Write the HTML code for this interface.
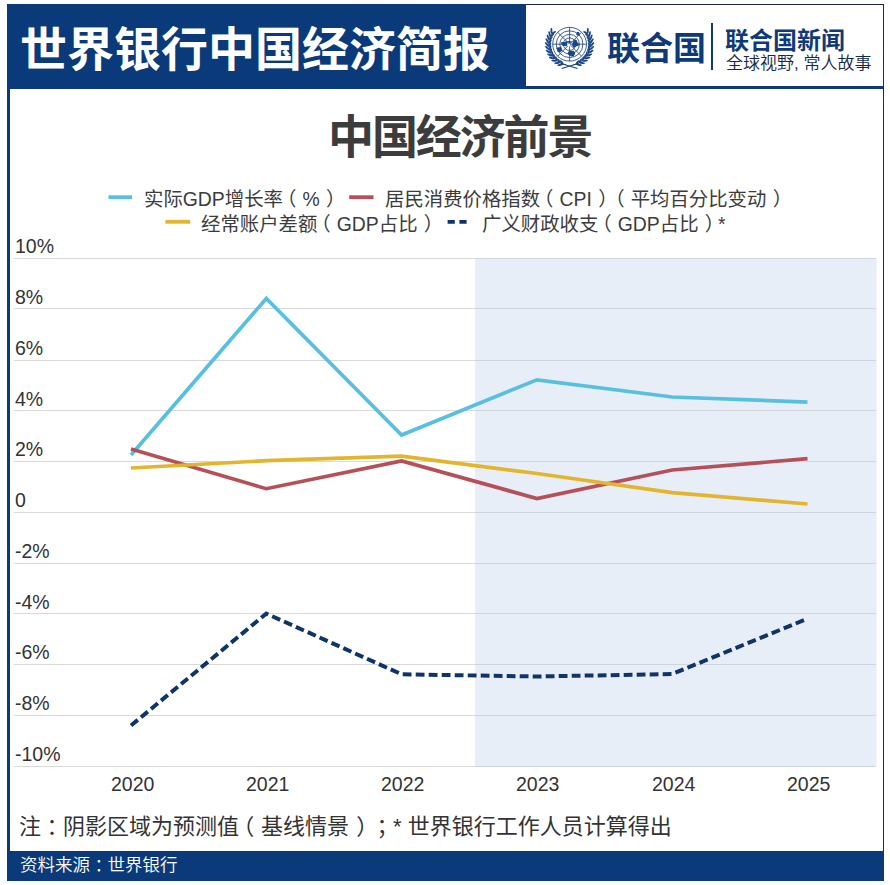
<!DOCTYPE html>
<html lang="zh-CN">
<head>
<meta charset="utf-8">
<title>世界银行中国经济简报</title>
<style>
html,body{margin:0;padding:0;background:#fff;}
body{width:890px;height:885px;position:relative;overflow:hidden;text-spacing-trim:space-all;font-family:"Liberation Sans","Noto Sans CJK SC",sans-serif;}
.abs{position:absolute;}
#frameL{left:7px;top:4px;width:3px;height:877px;background:#0a3a7a;}
#frameR{left:883px;top:4px;width:1px;height:877px;background:#1d2c4a;}
#hdrL{left:7px;top:4px;width:519px;height:85px;background:#0a3a7a;}
#hdrTop{left:526px;top:4px;width:358px;height:1px;background:#1d2a3c;}
#hdrBot{left:526px;top:86px;width:358px;height:3px;background:#0a3a7a;}
#footer{left:7px;top:851px;width:877px;height:30px;background:#0a3a7a;}
.t{white-space:nowrap;line-height:1;}
#title{left:20px;top:21.5px;font-size:47px;font-weight:700;color:#fff;font-family:"Noto Sans CJK SC",sans-serif;}
#un1{left:607px;top:29.5px;font-size:33px;font-weight:700;color:#0e3a78;font-family:"Noto Sans CJK SC",sans-serif;}
#sep{left:711px;top:23px;width:2px;height:47px;background:#0e3a78;}
#un2{left:725px;top:27px;font-size:24px;font-weight:700;color:#0e3a78;font-family:"Noto Sans CJK SC",sans-serif;}
#un3{left:726px;top:55px;font-size:17px;font-weight:350;color:#15284c;font-family:"Liberation Sans","Noto Sans CJK SC",sans-serif;}
#ctitle{left:328px;top:110px;font-size:46px;letter-spacing:-2.1px;font-weight:700;color:#3c3c3c;font-family:"Noto Sans CJK SC",sans-serif;}
.leg{font-size:19.4px;font-weight:400;color:#3c3c3c;}
.l{position:relative;left:-0.315em}
.r{position:relative;left:0.325em}
.c{position:relative;left:0.25em}
.ylab{font-size:19.5px;color:#333;}
.xlab{font-size:19.5px;color:#333;}
#note{left:19px;top:815.5px;font-size:22px;font-weight:400;color:#333;}
#src{left:20px;top:857px;font-size:17.5px;font-weight:350;color:#fff;}
</style>
</head>
<body>
<div class="abs" id="hdrL"></div>
<div class="abs" id="hdrTop"></div>
<div class="abs" id="hdrBot"></div>
<div class="abs" id="frameL"></div>
<div class="abs" id="frameR"></div>
<div class="abs" id="footer"></div>
<div class="abs t" id="title">世界银行中国经济简报</div>

<!-- UN emblem -->
<svg class="abs" style="left:544px;top:26px" width="52" height="44" viewBox="0 0 52 44">
<g fill="none" stroke="#1b4786" stroke-width="0.85">
<circle cx="25.6" cy="18.2" r="16.90"/>
<circle cx="25.6" cy="18.2" r="13.35"/>
<circle cx="25.6" cy="18.2" r="9.80"/>
<circle cx="25.6" cy="18.2" r="6.25"/>
<line x1="42.50" y1="18.20" x2="8.70" y2="18.20"/>
<line x1="37.55" y1="30.15" x2="13.65" y2="6.25"/>
<line x1="25.60" y1="35.10" x2="25.60" y2="1.30"/>
<line x1="13.65" y1="30.15" x2="37.55" y2="6.25"/>
</g>
<g fill="#1b4786">
<path d="M23.01,17.75 L23.75,19.23 L22.31,20.21 L20.50,19.89 L18.93,19.89 L17.85,18.95 L17.08,17.75 L17.33,16.31 L19.28,16.09 L20.50,15.92 L22.37,15.21 L23.13,16.56Z"/>
<path d="M34.92,17.70 L34.41,20.12 L32.35,20.23 L31.25,20.68 L29.51,21.68 L28.38,19.89 L28.05,17.70 L28.99,15.97 L29.70,14.15 L31.25,13.60 L32.78,14.20 L33.30,16.13Z"/>
<path d="M17.75,23.50 L17.85,24.88 L16.61,25.67 L15.25,26.36 L13.69,26.00 L13.33,24.52 L13.12,23.50 L12.24,21.90 L13.98,21.47 L15.25,21.20 L17.12,20.52 L17.74,22.17Z"/>
<path d="M31.07,27.75 L30.43,29.07 L29.70,30.50 L28.00,30.48 L26.63,29.97 L25.05,29.35 L23.56,27.75 L24.36,25.78 L25.93,24.40 L28.00,24.90 L29.84,24.77 L30.73,26.27Z"/>
<path d="M35.92,7.75 L35.77,8.64 L35.05,9.34 L34.00,9.71 L32.98,9.30 L32.08,8.72 L32.67,7.75 L32.47,6.98 L32.88,6.05 L34.00,6.04 L35.10,6.08 L35.22,7.13Z"/>
<path d="M28.14,16.00 L27.76,16.53 L26.34,16.77 L25.00,16.78 L24.02,16.56 L22.45,16.49 L22.34,16.00 L22.32,15.49 L23.75,15.28 L25.00,14.96 L26.18,15.32 L27.73,15.47Z"/>
</g>
<circle cx="24.80" cy="19.00" r="1.6" fill="#fff"/>
<g fill="#1b4786">
<path d="M7.50,7.75 L7.02,8.63 L6.58,9.53 L6.19,10.46 L5.84,11.40 L5.53,12.35 L5.28,13.32 L5.07,14.30 L4.90,15.29 L4.79,16.29 L4.72,17.29 L4.70,18.29 L4.73,19.29 L4.81,20.29 L4.93,21.29 L5.10,22.28 L5.32,23.26 L5.59,24.22 L5.90,25.18 L6.26,26.11 L6.66,27.03 L7.10,27.93 L7.59,28.81 L8.12,29.66 L8.69,30.48 L9.30,31.28 L9.95,32.05 L10.63,32.78 L11.35,33.49 L12.10,34.15 L12.88,34.78 L13.69,35.37 L14.52,35.92 L15.39,36.44 L16.27,36.90 L17.18,37.33 L18.11,37.71 L19.05,38.05 L20.01,38.34 L20.99,38.58 L21.97,38.78" fill="none" stroke="#1b4786" stroke-width="1.0"/>
<ellipse cx="7.42" cy="4.75" rx="3.00" ry="1.0" transform="rotate(-91.5 7.42 4.75)"/>
<ellipse cx="9.70" cy="6.56" rx="2.50" ry="1.0" transform="rotate(-28.5 9.70 6.56)"/>
<ellipse cx="5.49" cy="7.87" rx="3.00" ry="1.0" transform="rotate(-100.8 5.49 7.87)"/>
<ellipse cx="8.02" cy="9.28" rx="2.50" ry="1.0" transform="rotate(-37.8 8.02 9.28)"/>
<ellipse cx="4.08" cy="11.25" rx="3.00" ry="1.0" transform="rotate(-110.1 4.08 11.25)"/>
<ellipse cx="6.81" cy="12.24" rx="2.50" ry="1.0" transform="rotate(-47.1 6.81 12.24)"/>
<ellipse cx="3.24" cy="14.82" rx="3.00" ry="1.0" transform="rotate(-119.4 3.24 14.82)"/>
<ellipse cx="6.10" cy="15.35" rx="2.50" ry="1.0" transform="rotate(-56.4 6.10 15.35)"/>
<ellipse cx="2.99" cy="18.48" rx="3.00" ry="1.0" transform="rotate(-128.7 2.99 18.48)"/>
<ellipse cx="5.89" cy="18.54" rx="2.50" ry="1.0" transform="rotate(-65.7 5.89 18.54)"/>
<ellipse cx="3.33" cy="22.13" rx="3.00" ry="1.0" transform="rotate(-138.0 3.33 22.13)"/>
<ellipse cx="6.21" cy="21.72" rx="2.50" ry="1.0" transform="rotate(-75.0 6.21 21.72)"/>
<ellipse cx="4.26" cy="25.67" rx="3.00" ry="1.0" transform="rotate(-147.3 4.26 25.67)"/>
<ellipse cx="7.03" cy="24.81" rx="2.50" ry="1.0" transform="rotate(-84.3 7.03 24.81)"/>
<ellipse cx="5.75" cy="29.02" rx="3.00" ry="1.0" transform="rotate(-156.6 5.75 29.02)"/>
<ellipse cx="8.34" cy="27.72" rx="2.50" ry="1.0" transform="rotate(-93.6 8.34 27.72)"/>
<ellipse cx="7.76" cy="32.09" rx="3.00" ry="1.0" transform="rotate(-165.9 7.76 32.09)"/>
<ellipse cx="10.11" cy="30.39" rx="2.50" ry="1.0" transform="rotate(-102.9 10.11 30.39)"/>
<ellipse cx="10.24" cy="34.79" rx="3.00" ry="1.0" transform="rotate(-175.2 10.24 34.79)"/>
<ellipse cx="12.28" cy="32.73" rx="2.50" ry="1.0" transform="rotate(-112.2 12.28 32.73)"/>
<ellipse cx="13.12" cy="37.06" rx="3.00" ry="1.0" transform="rotate(175.5 13.12 37.06)"/>
<ellipse cx="14.80" cy="34.69" rx="2.50" ry="1.0" transform="rotate(-121.5 14.80 34.69)"/>
<ellipse cx="16.33" cy="38.82" rx="3.00" ry="1.0" transform="rotate(166.2 16.33 38.82)"/>
<ellipse cx="17.61" cy="36.22" rx="2.50" ry="1.0" transform="rotate(-130.8 17.61 36.22)"/>
<path d="M43.70,7.75 L44.18,8.63 L44.62,9.53 L45.01,10.46 L45.36,11.40 L45.67,12.35 L45.92,13.32 L46.13,14.30 L46.30,15.29 L46.41,16.29 L46.48,17.29 L46.50,18.29 L46.47,19.29 L46.39,20.29 L46.27,21.29 L46.10,22.28 L45.88,23.26 L45.61,24.22 L45.30,25.18 L44.94,26.11 L44.54,27.03 L44.10,27.93 L43.61,28.81 L43.08,29.66 L42.51,30.48 L41.90,31.28 L41.25,32.05 L40.57,32.78 L39.85,33.49 L39.10,34.15 L38.32,34.78 L37.51,35.37 L36.68,35.92 L35.81,36.44 L34.93,36.90 L34.02,37.33 L33.09,37.71 L32.15,38.05 L31.19,38.34 L30.21,38.58 L29.23,38.78" fill="none" stroke="#1b4786" stroke-width="1.0"/>
<ellipse cx="43.78" cy="4.75" rx="3.00" ry="1.0" transform="rotate(-88.5 43.78 4.75)"/>
<ellipse cx="41.50" cy="6.56" rx="2.50" ry="1.0" transform="rotate(-151.5 41.50 6.56)"/>
<ellipse cx="45.71" cy="7.87" rx="3.00" ry="1.0" transform="rotate(-79.2 45.71 7.87)"/>
<ellipse cx="43.18" cy="9.28" rx="2.50" ry="1.0" transform="rotate(-142.2 43.18 9.28)"/>
<ellipse cx="47.12" cy="11.25" rx="3.00" ry="1.0" transform="rotate(-69.9 47.12 11.25)"/>
<ellipse cx="44.39" cy="12.24" rx="2.50" ry="1.0" transform="rotate(-132.9 44.39 12.24)"/>
<ellipse cx="47.96" cy="14.82" rx="3.00" ry="1.0" transform="rotate(-60.6 47.96 14.82)"/>
<ellipse cx="45.10" cy="15.35" rx="2.50" ry="1.0" transform="rotate(-123.6 45.10 15.35)"/>
<ellipse cx="48.21" cy="18.48" rx="3.00" ry="1.0" transform="rotate(-51.3 48.21 18.48)"/>
<ellipse cx="45.31" cy="18.54" rx="2.50" ry="1.0" transform="rotate(-114.3 45.31 18.54)"/>
<ellipse cx="47.87" cy="22.13" rx="3.00" ry="1.0" transform="rotate(-42.0 47.87 22.13)"/>
<ellipse cx="44.99" cy="21.72" rx="2.50" ry="1.0" transform="rotate(-105.0 44.99 21.72)"/>
<ellipse cx="46.94" cy="25.67" rx="3.00" ry="1.0" transform="rotate(-32.7 46.94 25.67)"/>
<ellipse cx="44.17" cy="24.81" rx="2.50" ry="1.0" transform="rotate(-95.7 44.17 24.81)"/>
<ellipse cx="45.45" cy="29.02" rx="3.00" ry="1.0" transform="rotate(-23.4 45.45 29.02)"/>
<ellipse cx="42.86" cy="27.72" rx="2.50" ry="1.0" transform="rotate(-86.4 42.86 27.72)"/>
<ellipse cx="43.44" cy="32.09" rx="3.00" ry="1.0" transform="rotate(-14.1 43.44 32.09)"/>
<ellipse cx="41.09" cy="30.39" rx="2.50" ry="1.0" transform="rotate(-77.1 41.09 30.39)"/>
<ellipse cx="40.96" cy="34.79" rx="3.00" ry="1.0" transform="rotate(-4.8 40.96 34.79)"/>
<ellipse cx="38.92" cy="32.73" rx="2.50" ry="1.0" transform="rotate(-67.8 38.92 32.73)"/>
<ellipse cx="38.08" cy="37.06" rx="3.00" ry="1.0" transform="rotate(4.5 38.08 37.06)"/>
<ellipse cx="36.40" cy="34.69" rx="2.50" ry="1.0" transform="rotate(-58.5 36.40 34.69)"/>
<ellipse cx="34.87" cy="38.82" rx="3.00" ry="1.0" transform="rotate(13.8 34.87 38.82)"/>
<ellipse cx="33.59" cy="36.22" rx="2.50" ry="1.0" transform="rotate(-49.2 33.59 36.22)"/>
</g>
<g stroke="#1b4786" stroke-width="1.2" fill="none"><path d="M17.00,37.50 L33.50,42.50"/><path d="M34.20,37.50 L17.70,42.50"/></g>

</svg>
<div class="abs t" id="un1">联合国</div>
<div class="abs" id="sep"></div>
<div class="abs t" id="un2">联合国新闻</div>
<div class="abs t" id="un3">全球视野, 常人故事</div>

<div class="abs t" id="ctitle">中国经济前景</div>

<!-- chart -->
<svg class="abs" style="left:0;top:0" width="890" height="885" viewBox="0 0 890 885">
 <rect x="475" y="258" width="401.6" height="508" fill="#e8eef8"/>
 <g fill="#d9d9d9">
  <rect x="14" y="258" width="461" height="1"/>
  <rect x="14" y="308" width="461" height="1"/>
  <rect x="14" y="360" width="461" height="1"/>
  <rect x="14" y="410" width="461" height="1"/>
  <rect x="14" y="461" width="461" height="1"/>
  <rect x="14" y="512" width="461" height="1"/>
  <rect x="14" y="563" width="461" height="1"/>
  <rect x="14" y="613" width="461" height="1"/>
  <rect x="14" y="664" width="461" height="1"/>
  <rect x="14" y="715" width="461" height="1"/>
  <rect x="14" y="766" width="461" height="1"/>
 </g>
 <g fill="#d0d4db">
  <rect x="475" y="258" width="401" height="1"/>
  <rect x="475" y="308" width="401" height="1"/>
  <rect x="475" y="360" width="401" height="1"/>
  <rect x="475" y="410" width="401" height="1"/>
  <rect x="475" y="461" width="401" height="1"/>
  <rect x="475" y="512" width="401" height="1"/>
  <rect x="475" y="563" width="401" height="1"/>
  <rect x="475" y="613" width="401" height="1"/>
  <rect x="475" y="664" width="401" height="1"/>
  <rect x="475" y="715" width="401" height="1"/>
  <rect x="475" y="766" width="401" height="1"/>
 </g>
 <g fill="none" stroke-width="3.7" stroke-linejoin="miter">
  <polyline stroke="#57c0e0" points="131,455 266.3,298.5 401.6,435 536.9,379.8 672.2,397 807.5,402.1"/>
  <polyline stroke="#b54f58" points="131,449 266.3,488.7 401.6,461 536.9,498.5 672.2,470 807.5,458.7"/>
  <polyline stroke="#e3b52e" points="131,468 266.3,460.7 401.6,456.2 536.9,473.5 672.2,492.7 807.5,504"/>
  <polyline stroke="#0e3468" stroke-width="4" stroke-dasharray="8.8 4.2" points="131,725.5 266.3,613.6 401.6,674.3 536.9,676.5 672.2,674 807.5,618.7"/>
 </g>
 <!-- legend lines -->
 <g stroke-width="3.8">
  <line x1="108.5" x2="132" y1="197.2" y2="197.2" stroke="#57c0e0"/>
  <line x1="165.4" x2="190.2" y1="221.8" y2="221.8" stroke="#e3b52e"/>
  <line x1="349.2" x2="373.5" y1="197.2" y2="197.2" stroke="#b54f58"/>
  <line x1="447.6" x2="467.1" y1="221.8" y2="221.8" stroke="#0e3468" stroke-dasharray="7.2 4.6"/>
 </g>
</svg>

<!-- legend text -->
<div class="abs t leg" style="left:144px;top:190px">实际GDP增长率<span class="l">（</span>%<span class="r">）</span></div>
<div class="abs t leg" style="left:385px;top:190px">居民消费价格指数<span class="l">（</span>CPI<span class="r">）</span><span class="l">（</span>平均百分比变动<span class="r">）</span></div>
<div class="abs t leg" style="left:201px;top:215px">经常账户差额<span class="l">（</span>GDP占比<span class="r">）</span></div>
<div class="abs t leg" style="left:482px;top:215px">广义财政收支<span class="l">（</span>GDP占比<span class="r">）</span>*</div>

<!-- y labels -->
<div class="abs t ylab" style="left:15px;top:237px">10%</div>
<div class="abs t ylab" style="left:15px;top:288px">8%</div>
<div class="abs t ylab" style="left:15px;top:339px">6%</div>
<div class="abs t ylab" style="left:15px;top:390px">4%</div>
<div class="abs t ylab" style="left:15px;top:440px">2%</div>
<div class="abs t ylab" style="left:15px;top:491px">0</div>
<div class="abs t ylab" style="left:15px;top:542px">-2%</div>
<div class="abs t ylab" style="left:15px;top:593px">-4%</div>
<div class="abs t ylab" style="left:15px;top:643px">-6%</div>
<div class="abs t ylab" style="left:15px;top:694px">-8%</div>
<div class="abs t ylab" style="left:15px;top:745px">-10%</div>

<!-- x labels -->
<div class="abs t xlab" style="left:111px;top:774.5px">2020</div>
<div class="abs t xlab" style="left:246px;top:774.5px">2021</div>
<div class="abs t xlab" style="left:381px;top:774.5px">2022</div>
<div class="abs t xlab" style="left:516px;top:774.5px">2023</div>
<div class="abs t xlab" style="left:652px;top:774.5px">2024</div>
<div class="abs t xlab" style="left:787px;top:774.5px">2025</div>

<div class="abs t" id="note">注<span class="c">：</span>阴影区域为预测值<span class="l">（</span>基线情景<span class="r">）</span><span class="c">；</span>* 世界银行工作人员计算得出</div>
<div class="abs t" id="src">资料来源<span class="c">：</span>世界银行</div>
</body>
</html>
